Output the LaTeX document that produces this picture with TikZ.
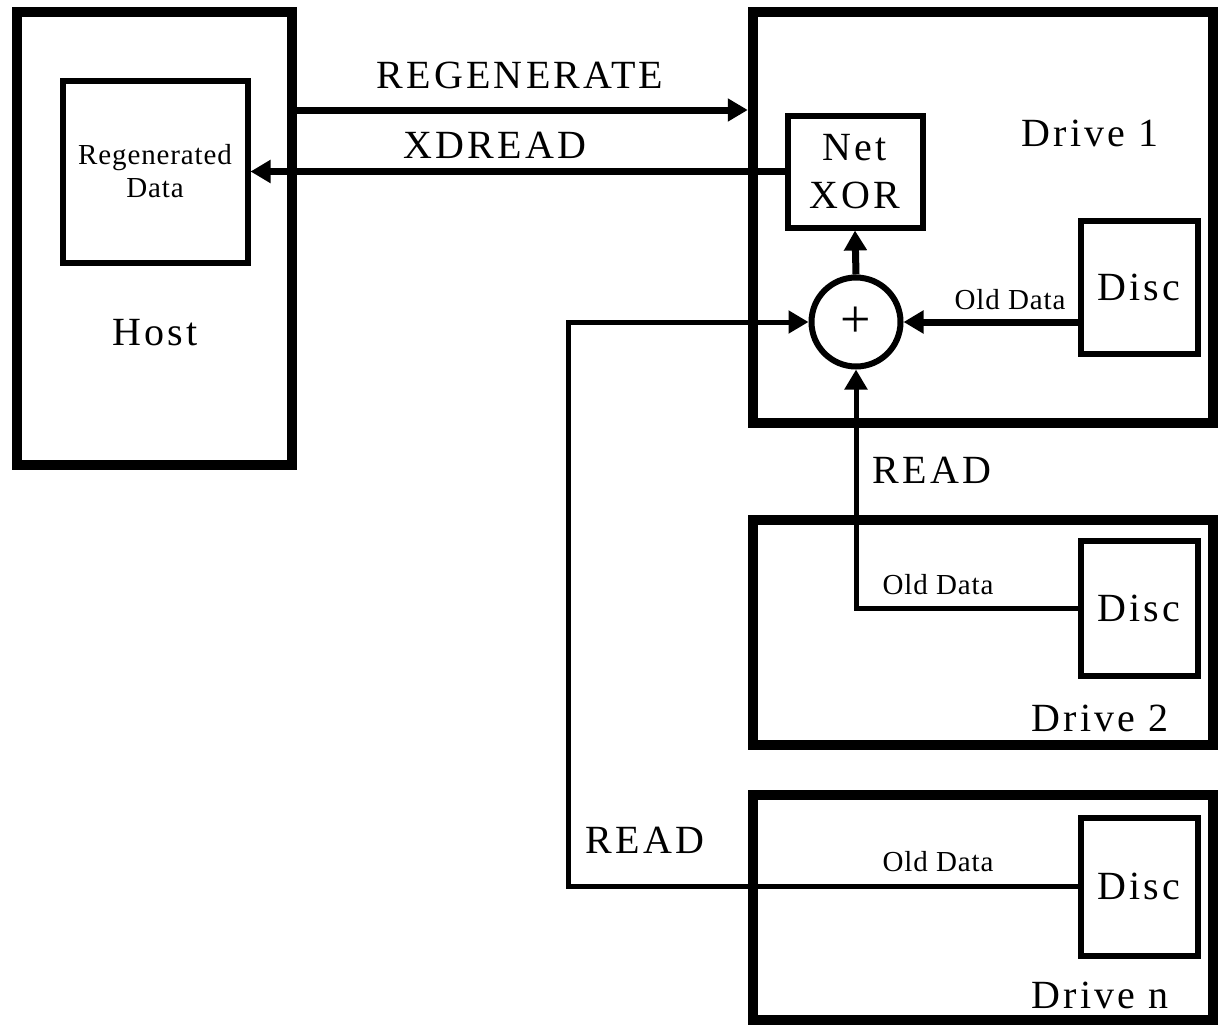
\documentclass[tikz,border=0pt]{standalone}
\usepackage{fontspec}
\setmainfont{Liberation Serif}
\usetikzlibrary{arrows.meta,positioning}

\begin{document}
\begin{tikzpicture}[x=1pt,y=-1pt,
drivebox/.style={draw,line width=10.5pt,minimum width=460pt,minimum height=225pt,inner sep=0pt},
unitbox/.style={draw,line width=6pt,inner sep=0pt,align=center},
big/.style={font=\fontsize{40}{48}\selectfont\addfontfeature{LetterSpace=8}},
small/.style={font=\fontsize{29}{33}\selectfont\addfontfeature{LetterSpace=3}},
sig/.style={line width=7pt,-{Triangle[length=20pt,width=22pt]}},
wire/.style={line width=5pt}]
\useasboundingbox (0,0) rectangle (1222,1025);
% host side
\node[drivebox,minimum width=275pt,minimum height=453pt] (host) at (154.5,238.5) {};
\node[unitbox,small,minimum width=185pt,minimum height=182pt] (regen) at (155,171.5) {Regenerated\\Data};
\node[big] (hostlbl) at (155,333) {Host};
% drives
\node[drivebox,minimum height=411pt] (drive1) at (983,217.5) {};
\node[drivebox] (drive2) at (983,632.5) {};
\node[drivebox] (driven) at (983,907.5) {};
\node[unitbox,big,minimum width=135pt,minimum height=112pt] (xor) at (855,171.5) {Net\\XOR};
\node[unitbox,big,minimum width=117pt,minimum height=133pt] (disc1) at (1139,287) {Disc};
\node[unitbox,big,minimum width=117pt,minimum height=135pt] (disc2) at (1139,608) {Disc};
\node[unitbox,big,minimum width=117pt,minimum height=138pt] (discn) at (1139,886.5) {Disc};
\node[unitbox,circle,minimum size=89pt,font=\fontsize{54}{56}\selectfont] (sum) at (856,322) {+};
\node[big] (d1lbl) at (1090,133) {Drive 1};
\node[big] (d2lbl) at (1100,718) {Drive 2};
\node[big] (dnlbl) at (1100,995) {Drive n};
% commands and data
\coordinate (rg) at (0,110);
\coordinate (readbend) at (568,0);
\draw[sig] (host.east |- rg) -- (drive1.west |- rg);
\draw[sig] (xor.west) -- (regen.east);
\draw[sig] (sum.north) -- (xor.south);
\draw[sig] (disc1.west |- sum) -- (sum.east);
\draw[wire,-{Triangle[length=20pt,width=22pt]}] (disc2.west) -| (sum.south);
\draw[wire,-{Triangle[length=20pt,width=22pt]}] (discn.west) -- (discn.west -| readbend) |- (sum.west);
\node[big] (regenlbl) at (520,75) {REGENERATE};
\node[big] (xdlbl) at (495,145) {XDREAD};
\node[big] (read2lbl) at (932,470) {READ};
\node[big] (readnlbl) at (645,840) {READ};
\node[small] (old1) at (1010,300) {Old Data};
\node[small] (old2) at (938,585) {Old Data};
\node[small] (oldn) at (938,862) {Old Data};
\end{tikzpicture}
\end{document}
